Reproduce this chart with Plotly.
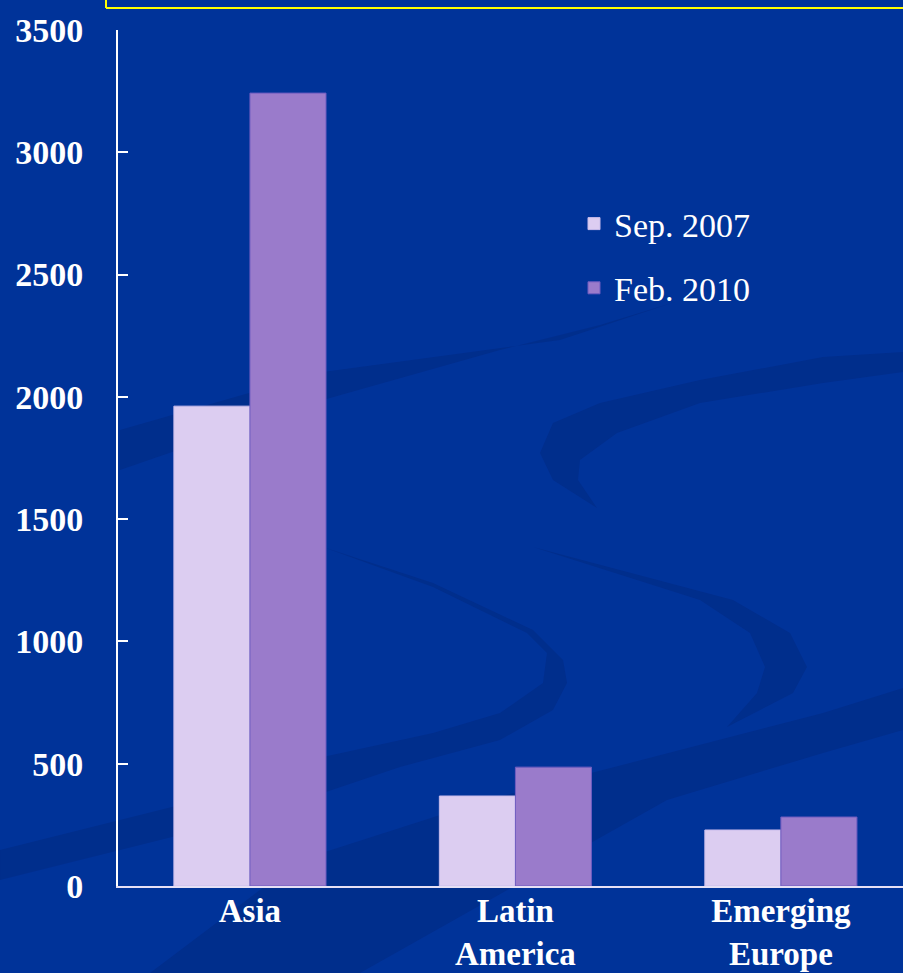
import plotly.graph_objects as go

categories = ["Asia", "Latin<br>America", "Emerging<br>Europe"]
sep_2007 = [1962, 368, 229]
feb_2010 = [3242, 486, 282]
series_names = ["Sep. 2007", "Feb. 2010"]
y_ticks = [0, 500, 1000, 1500, 2000, 2500, 3000, 3500]

W, H = 903, 973
L, R, T, B = 118, 0, 30, 87
PW, PH = W - L - R, H - T - B

BG = "#003399"
SWOOSH = "#002E8C"
LIGHT = "#DCCDF1"
PURPLE = "#9A7BCB"
FONT = "Liberation Serif"


def px(x, y):
    return (x - L) / PW, (H - B - y) / PH


def path(points):
    pts = [px(x, y) for x, y in points]
    s = "M {:.4f},{:.4f} ".format(*pts[0])
    s += " ".join("L {:.4f},{:.4f}".format(a, b) for a, b in pts[1:])
    return s + " Z"


# decorative background swooshes (pixel outlines)
swooshes = [
    # upper long band
    [(120, 470), (323, 400), (500, 350), (600, 325), (675, 302), (560, 340), (323, 372), (120, 430)],
    # right S (upper)
    [(903, 352), (823, 357), (700, 380), (600, 403), (553, 423), (540, 453), (553, 480), (597, 508),
     (578, 480), (580, 460), (617, 433), (700, 403), (823, 383), (903, 372)],
    # left S (lower)
    [(323, 547), (433, 583), (533, 630), (563, 660), (567, 683), (553, 710), (500, 740), (400, 767),
     (323, 793), (200, 830), (0, 880), (0, 850), (200, 800), (323, 757), (433, 733), (500, 713),
     (543, 683), (547, 653), (527, 633), (433, 587)],
    # right S (lower)
    [(533, 547), (733, 600), (790, 633), (807, 667), (793, 693), (727, 727), (757, 693), (765, 667),
     (750, 633), (700, 600)],
    # bottom right band
    [(903, 688), (823, 713), (487, 800), (300, 860), (150, 973), (360, 973), (667, 800), (823, 753), (903, 730)],
]

shapes = []
for pts in swooshes:
    shapes.append(dict(type="path", xref="paper", yref="paper", path=path(pts),
                       fillcolor=SWOOSH, line=dict(width=0), layer="below"))

# yellow frame at the top
x0, y0 = px(106, 8)
x1, _ = px(910, 8)
_, ytop = px(106, -10)
shapes.append(dict(type="line", xref="paper", yref="paper", x0=x0, x1=x1, y0=y0, y1=y0,
                   line=dict(color="#FFFF00", width=2)))
shapes.append(dict(type="line", xref="paper", yref="paper", x0=x0, x1=x0, y0=y0, y1=ytop,
                   line=dict(color="#FFFF00", width=2)))

fig = go.Figure()
fig.add_trace(go.Bar(x=categories, y=sep_2007, name=series_names[0], legendgroup="a",
                     marker=dict(color=LIGHT, line=dict(color="#C8BCEB", width=1))))
fig.add_trace(go.Bar(x=categories, y=feb_2010, name=series_names[1], legendgroup="b",
                     marker=dict(color=PURPLE, line=dict(color="#6E5CC0", width=1))))

fig.update_layout(
    width=W, height=H,
    margin=dict(l=L, r=R, t=T, b=B, autoexpand=False),
    paper_bgcolor=BG, plot_bgcolor="rgba(0,0,0,0)",
    barmode="group", bargap=0.427, bargroupgap=0,
    shapes=shapes,
    showlegend=True,
    legend=dict(x=px(574, 0)[0], y=px(0, 195)[1], xanchor="left", yanchor="top",
                bgcolor="rgba(0,0,0,0)", font=dict(family=FONT, size=34, color="white"),
                tracegroupgap=17, traceorder="grouped"),
    xaxis=dict(range=[-0.497, 2.46], showgrid=False, showline=True, linecolor="#E6E0F5",
               linewidth=2, ticks="", automargin=False, ticklabelstandoff=-6,
               tickfont=dict(family=FONT, size=33, color="white", weight="bold"),
               fixedrange=True),
    yaxis=dict(range=[0, 3500], tickvals=y_ticks, showgrid=False, showline=True,
               linecolor="white", linewidth=2, ticks="inside", ticklen=10, tickwidth=2,
               tickcolor="white", ticklabelstandoff=26, automargin=False,
               tickfont=dict(family=FONT, size=34, color="white", weight="bold"),
               zeroline=False, fixedrange=True),
)

fig.write_html("out.html")
